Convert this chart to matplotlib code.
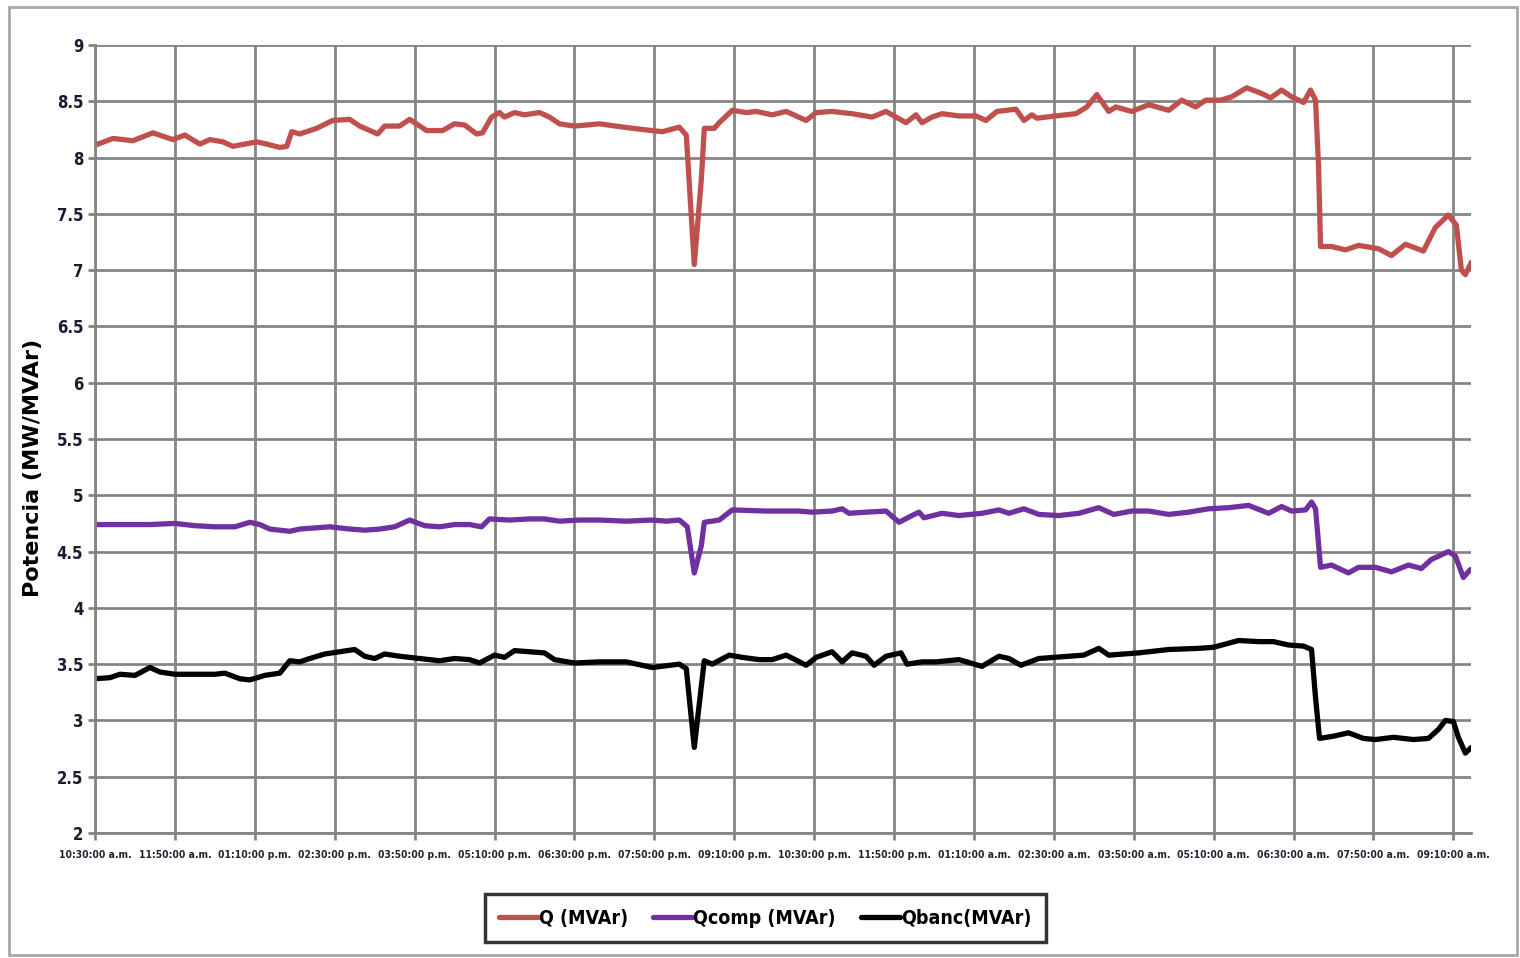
import matplotlib.pyplot as plt
from matplotlib.patches import Rectangle

# time in minutes after 10:30:00 a.m., values in MVAr
q_t = [0, 18, 38, 58, 78, 90, 105, 115, 128, 138,
       162, 172, 185, 192, 197, 205, 222, 238, 255, 265,
       283, 290, 305, 315, 332, 348, 360, 370, 382, 388,
       397, 405, 410, 420, 430, 445, 455, 465, 480, 505,
       538, 568, 585, 592, 600, 607, 610, 620, 625, 638,
       652, 662, 678, 692, 712, 722, 738, 758, 778, 792,
       802, 812, 822, 828, 838, 848, 865, 882, 892, 903,
       922, 930, 938, 943, 962, 982, 993, 1003, 1015, 1022,
       1038, 1055, 1075, 1088, 1102, 1112, 1127, 1138, 1153, 1168,
       1177, 1188, 1198, 1210, 1217, 1222, 1225, 1227, 1238, 1252,
       1265, 1272, 1285, 1298, 1312, 1330, 1342, 1355, 1363, 1368,
       1372, 1378]
q_v = [8.11, 8.17, 8.15, 8.22, 8.16, 8.20, 8.12, 8.16, 8.14, 8.10,
       8.14, 8.12, 8.09, 8.10, 8.23, 8.21, 8.26, 8.33, 8.34, 8.28,
       8.21, 8.28, 8.28, 8.34, 8.24, 8.24, 8.30, 8.29, 8.21, 8.22,
       8.36, 8.40, 8.36, 8.40, 8.38, 8.40, 8.36, 8.30, 8.28, 8.30,
       8.26, 8.23, 8.27, 8.20, 7.05, 7.80, 8.26, 8.26, 8.31, 8.42,
       8.40, 8.41, 8.38, 8.41, 8.33, 8.40, 8.41, 8.39, 8.36, 8.41,
       8.36, 8.31, 8.38, 8.31, 8.36, 8.39, 8.37, 8.37, 8.33, 8.41,
       8.43, 8.33, 8.38, 8.35, 8.37, 8.39, 8.45, 8.56, 8.41, 8.45,
       8.41, 8.47, 8.42, 8.51, 8.45, 8.51, 8.51, 8.54, 8.62, 8.57,
       8.53, 8.60, 8.54, 8.49, 8.60, 8.51, 7.92, 7.21, 7.21, 7.18,
       7.22, 7.21, 7.19, 7.13, 7.23, 7.17, 7.38, 7.49, 7.40, 7.00,
       6.96, 7.07]

qc_t = [0, 25, 55, 80, 100, 120, 140, 155, 165, 175,
        195, 205, 220, 235, 255, 270, 285, 300, 315, 330,
        345, 360, 375, 387, 395, 415, 435, 450, 465, 485,
        505, 532, 558, 572, 585, 593, 600, 607, 610, 625,
        638, 672, 705, 718, 738, 748, 755, 772, 792, 805,
        818, 825, 830, 848, 865, 888, 905, 915, 930, 945,
        965, 985, 1005, 1020, 1038, 1055, 1075, 1095, 1115, 1135,
        1155, 1175, 1188, 1198, 1212, 1218, 1222, 1227, 1238, 1255,
        1265, 1282, 1298, 1315, 1328, 1338, 1355, 1362, 1370, 1377]
qc_v = [4.74, 4.74, 4.74, 4.75, 4.73, 4.72, 4.72, 4.76, 4.74, 4.70,
        4.68, 4.70, 4.71, 4.72, 4.70, 4.69, 4.70, 4.72, 4.78, 4.73,
        4.72, 4.74, 4.74, 4.72, 4.79, 4.78, 4.79, 4.79, 4.77, 4.78,
        4.78, 4.77, 4.78, 4.77, 4.78, 4.72, 4.31, 4.55, 4.76, 4.78,
        4.87, 4.86, 4.86, 4.85, 4.86, 4.88, 4.84, 4.85, 4.86, 4.76,
        4.82, 4.85, 4.80, 4.84, 4.82, 4.84, 4.87, 4.84, 4.88, 4.83,
        4.82, 4.84, 4.89, 4.83, 4.86, 4.86, 4.83, 4.85, 4.88, 4.89,
        4.91, 4.84, 4.90, 4.86, 4.87, 4.94, 4.88, 4.36, 4.38, 4.31,
        4.36, 4.36, 4.32, 4.38, 4.35, 4.43, 4.50, 4.46, 4.27, 4.34]

qb_t = [0, 15, 25, 40, 55, 65, 80, 100, 120, 130,
        145, 155, 170, 185, 195, 205, 215, 230, 245, 260,
        270, 280, 290, 305, 325, 345, 360, 375, 385, 400,
        410, 420, 435, 450, 460, 480, 505, 532, 558, 585,
        592, 600, 607, 610, 618, 635, 648, 665, 678, 692,
        712, 722, 738, 748, 758, 772, 780, 792, 807, 813,
        828, 842, 865, 888, 905, 915, 927, 945, 960, 975,
        990, 1005, 1015, 1045, 1075, 1105, 1120, 1145, 1165, 1180,
        1195, 1210, 1218, 1222, 1226, 1240, 1255, 1270, 1282, 1300,
        1320, 1335, 1345, 1352, 1360, 1365, 1372, 1378]
qb_v = [3.37, 3.38, 3.41, 3.40, 3.47, 3.43, 3.41, 3.41, 3.41, 3.42,
        3.37, 3.36, 3.40, 3.42, 3.53, 3.52, 3.55, 3.59, 3.61, 3.63,
        3.57, 3.55, 3.59, 3.57, 3.55, 3.53, 3.55, 3.54, 3.51, 3.58,
        3.56, 3.62, 3.61, 3.60, 3.54, 3.51, 3.52, 3.52, 3.47, 3.50,
        3.46, 2.76, 3.30, 3.53, 3.50, 3.58, 3.56, 3.54, 3.54, 3.58,
        3.49, 3.56, 3.61, 3.52, 3.60, 3.57, 3.49, 3.57, 3.60, 3.50,
        3.52, 3.52, 3.54, 3.48, 3.57, 3.55, 3.49, 3.55, 3.56, 3.57,
        3.58, 3.64, 3.58, 3.60, 3.63, 3.64, 3.65, 3.71, 3.70, 3.70,
        3.67, 3.66, 3.63, 3.20, 2.84, 2.86, 2.89, 2.84, 2.83, 2.85,
        2.83, 2.84, 2.92, 3.00, 2.99, 2.85, 2.71, 2.76]

tick_labels = ["10:30:00 a.m.", "11:50:00 a.m.", "01:10:00 p.m.", "02:30:00 p.m.",
               "03:50:00 p.m.", "05:10:00 p.m.", "06:30:00 p.m.", "07:50:00 p.m.",
               "09:10:00 p.m.", "10:30:00 p.m.", "11:50:00 p.m.", "01:10:00 a.m.",
               "02:30:00 a.m.", "03:50:00 a.m.", "05:10:00 a.m.", "06:30:00 a.m.",
               "07:50:00 a.m.", "09:10:00 a.m."]
y_ticks = [2, 2.5, 3, 3.5, 4, 4.5, 5, 5.5, 6, 6.5, 7, 7.5, 8, 8.5, 9]

GRID = "#858585"
NARROW = dict(family="DejaVu Sans", stretch="condensed", weight="bold")

fig = plt.figure(figsize=(15.2, 9.58), dpi=100)
fig.patches.append(Rectangle((0.006, 0.003), 0.992, 0.99, transform=fig.transFigure,
                             fill=False, edgecolor="#a8a8a8", linewidth=2.0))
ax = fig.add_axes([0.0625, 0.1305, 0.9055, 0.8225])

ax.plot(q_t, q_v, color="#C0504D", lw=3.8, label="Q (MVAr)", solid_capstyle="round")
ax.plot(qc_t, qc_v, color="#7030A0", lw=3.8, label="Qcomp (MVAr)", solid_capstyle="round")
ax.plot(qb_t, qb_v, color="#000000", lw=3.8, label="Qbanc(MVAr)", solid_capstyle="round")

ax.set_xlim(0, 1378)
ax.set_ylim(2, 9)
ax.set_xticks([80 * i for i in range(len(tick_labels))])
ax.set_xticklabels(tick_labels, fontsize=7.4, color="#222233", **NARROW)
ax.set_yticks(y_ticks)
ax.set_yticklabels([f"{v:g}" for v in y_ticks], fontsize=12, color="#1a1a33", **NARROW)
ax.grid(True, color=GRID, linewidth=2.0)
ax.set_axisbelow(True)
ax.tick_params(axis="both", color=GRID, width=2.0, length=5)
ax.tick_params(axis="x", pad=7)
for side in ["right", "top"]:
    ax.spines[side].set_visible(False)
for side in ["left", "bottom"]:
    ax.spines[side].set_color(GRID)
    ax.spines[side].set_linewidth(2.0)
ax.set_ylabel("Potencia (MW/MVAr)", fontsize=16, fontweight="bold", family="DejaVu Sans")
ax.yaxis.set_label_coords(-0.038, 0.463)

leg = ax.legend(loc="center", bbox_to_anchor=(0.487, -0.108), ncol=3, frameon=True,
                fancybox=False,
                prop={"family": "DejaVu Sans", "stretch": "condensed", "size": 14,
                      "weight": "bold"},
                handlelength=2.0, handletextpad=0.05, columnspacing=1.3,
                borderpad=0.75)
leg.get_frame().set_edgecolor("black")
leg.get_frame().set_linewidth(2.5)

fig.savefig("out.png", dpi=100)
